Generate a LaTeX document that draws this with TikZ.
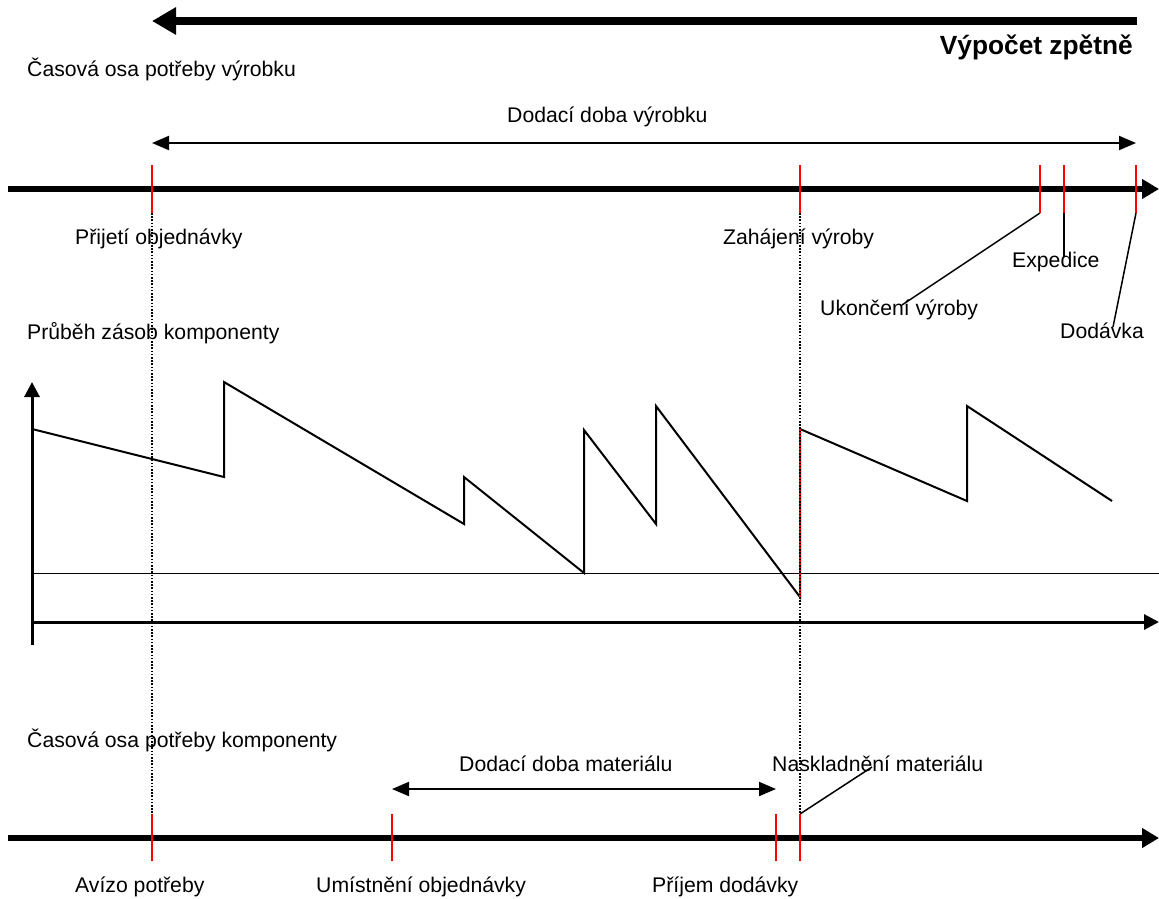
\documentclass[tikz,border=0pt]{standalone}
\usepackage{fontspec}
\setmainfont{Liberation Sans}
\usetikzlibrary{arrows.meta}
\begin{document}
\begin{tikzpicture}[x=1pt,y=-1pt,
  lbl/.style={inner sep=0pt, anchor=base west, font=\fontsize{21.2}{25}\selectfont},
  ttl/.style={inner sep=0pt, anchor=base east, font=\fontsize{26.3}{30}\selectfont\bfseries},
  timeaxis/.style={line width=6pt, -{Triangle[length=17pt,width=19pt]}},
  chartaxis/.style={line width=3pt, -{Triangle[length=15pt,width=15pt]}},
  tickmark/.style={red, line width=2pt},
  span/.style={line width=2pt, {Triangle[length=17pt,width=14pt]}-{Triangle[length=17pt,width=14pt]}},
  guide/.style={line width=1.5pt, dash pattern=on 1.5pt off 1.7pt},
  leader/.style={line width=1.5pt},
  stock/.style={line width=2pt, line join=miter},
]
\useasboundingbox (0,0) rectangle (1159,899);

% backward planning arrow
\coordinate (back-start) at (1137,21);
\coordinate (back-end) at (152,21);
\draw[line width=8pt, -{Triangle[length=24pt,width=26pt]}] (back-start) -- (back-end);
\node[ttl] (title) at (1133,55) {Výpočet zpětně};

% ---------- product timeline ----------
\node[lbl] (prod-axis-lbl) at (27,77) {Časová osa potřeby výrobku};
\node[lbl] (lead-prod-lbl) at (507,122) {Dodací doba výrobku};

\coordinate (pa-start) at (8,189);
\coordinate (pa-end) at (1159,189);
\draw[timeaxis] (pa-start) -- (pa-end);

\coordinate (order-top) at (152,165);  \coordinate (order-bot) at (152,213);
\coordinate (start-top) at (800,165);  \coordinate (start-bot) at (800,213);
\coordinate (finish-top) at (1040,165); \coordinate (finish-bot) at (1040,213);
\coordinate (ship-top) at (1064,165);  \coordinate (ship-bot) at (1064,213);
\coordinate (deliv-top) at (1136,165); \coordinate (deliv-bot) at (1136,213);

\coordinate (lp-a) at (152,143);
\coordinate (lp-b) at (1136,143);
\draw[span] (lp-a) -- (lp-b);

\node[lbl] (order-lbl) at (75,244) {Přijetí objednávky};
\node[lbl] (start-lbl) at (723,244) {Zahájení výroby};
\node[lbl] (ship-lbl) at (1012,267) {Expedice};
\node[lbl] (finish-lbl) at (820,315) {Ukončení výroby};
\node[lbl] (deliv-lbl) at (1060,338) {Dodávka};

\coordinate (finish-end) at (902,305);
\coordinate (ship-end) at (1064,257);
\coordinate (deliv-end) at (1113,327);
\draw[leader] (finish-bot) -- (finish-end);
\draw[leader] (ship-bot) -- (ship-end);
\draw[leader] (deliv-bot) -- (deliv-end);

% ---------- stock chart ----------
\node[lbl] (stock-lbl) at (27,339) {Průběh zásob komponenty};

\coordinate (ya-start) at (32,645);
\coordinate (ya-end) at (32,382);
\coordinate (xa-start) at (32,622);
\coordinate (xa-end) at (1159,622);
\coordinate (ss-start) at (32,573);
\coordinate (ss-end) at (1159,573);
\draw[line width=1pt] (ss-start) -- (ss-end);
\draw[chartaxis] (xa-start) -- (xa-end);
\draw[chartaxis] (ya-start) -- (ya-end);

\draw[stock] (32,429) -- (224,477) -- (224,382) -- (464,524) -- (464,477)
  -- (584,573) -- (584,430) -- (656,524) -- (656,406) -- (800,597)
  -- (800,429) -- (967,501) -- (967,406) -- (1112,501);
\coordinate (refill-low) at (800,597);
\coordinate (refill-high) at (800,429);
\draw[red, line width=2pt] (refill-low) -- (refill-high);

% ---------- component timeline ----------
\node[lbl] (comp-axis-lbl) at (27,747) {Časová osa potřeby komponenty};
\node[lbl] (lead-mat-lbl) at (459,771) {Dodací doba materiálu};
\node[lbl] (store-lbl) at (772,771) {Naskladnění materiálu};

\coordinate (ca-start) at (8,838);
\coordinate (ca-end) at (1159,838);
\draw[timeaxis] (ca-start) -- (ca-end);

\coordinate (advice-top) at (152,814);  \coordinate (advice-bot) at (152,861);
\coordinate (place-top) at (392,814);   \coordinate (place-bot) at (392,861);
\coordinate (receive-top) at (776,814); \coordinate (receive-bot) at (776,861);
\coordinate (store-top) at (800,814);   \coordinate (store-bot) at (800,861);

\coordinate (lm-a) at (392,789);
\coordinate (lm-b) at (776,789);
\draw[span] (lm-a) -- (lm-b);

\coordinate (store-end) at (872,767);
\draw[leader] (store-top) -- (store-end);

\node[lbl] (advice-lbl) at (75,892) {Avízo potřeby};
\node[lbl] (place-lbl) at (316,892) {Umístnění objednávky};
\node[lbl] (receive-lbl) at (652,892) {Příjem dodávky};

% event ticks
\foreach \e in {order,start,finish,ship,deliv,advice,place,receive,store}
  \draw[tickmark] (\e-top) -- (\e-bot);

% vertical guides linking the timelines
\draw[guide] (order-bot) -- (advice-top);
\draw[guide] (start-bot) -- (store-top);
\end{tikzpicture}
\end{document}
